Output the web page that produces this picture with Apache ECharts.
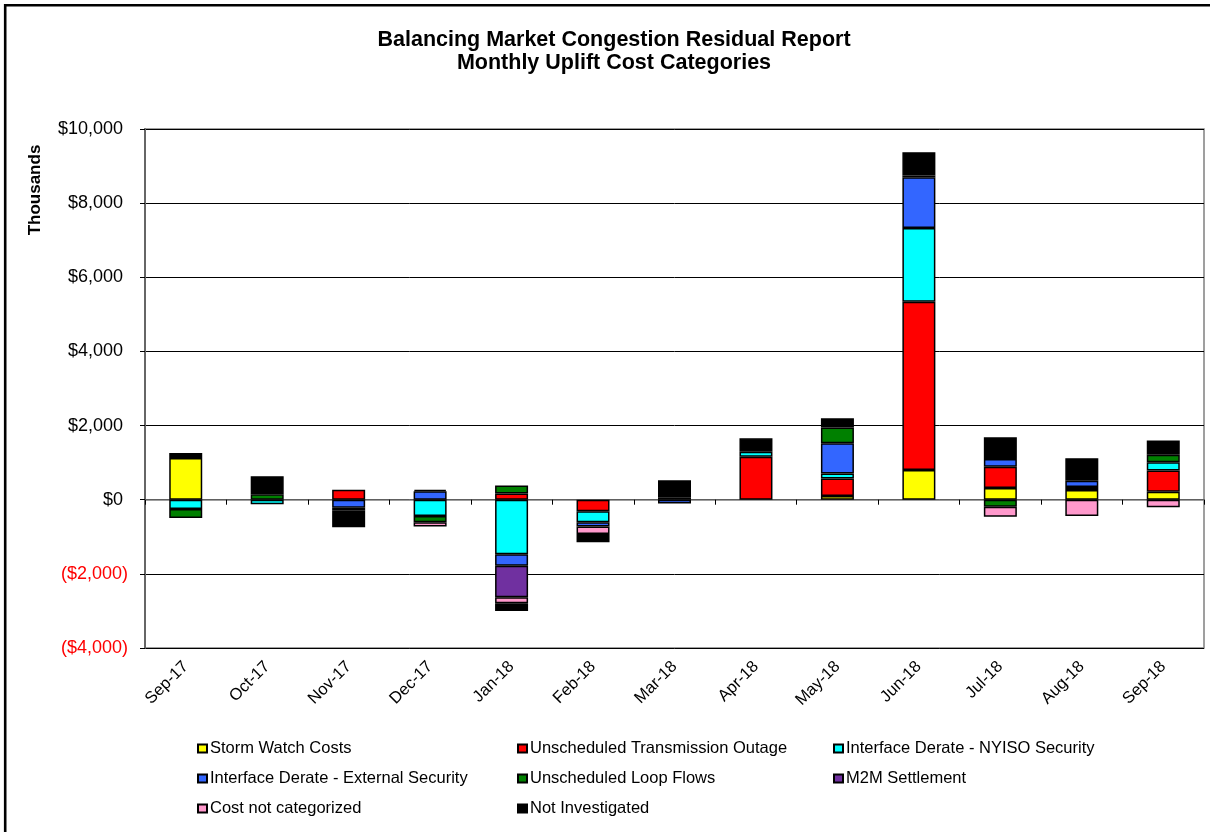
<!DOCTYPE html>
<html>
<head>
<meta charset="utf-8">
<script src="https://cdn.jsdelivr.net/npm/echarts@6/dist/echarts.min.js"></script>
<style>
html,body{margin:0;padding:0;background:#fff;}
#chart{width:1210px;height:832px;}
</style>
</head>
<body>
<div id="chart"></div>
<script>
var categories = ['Sep-17','Oct-17','Nov-17','Dec-17','Jan-18','Feb-18','Mar-18','Apr-18','May-18','Jun-18','Jul-18','Aug-18','Sep-18'];
var seriesNames = ['Storm Watch Costs','Unscheduled Transmission Outage','Interface Derate - NYISO Security','Interface Derate - External Security','Unscheduled Loop Flows','M2M Settlement','Cost not categorized','Not Investigated'];
var stormWatch      = [1125, null, null, null, null, null, null, null, 100, 800, 315, 260, 215];
var transOutage     = [null, null, 270, null, 170, -310, null, 1160, 475, 4540, 577, 80, 570];
var nyisoSecurity   = [-250, -120, null, -440, -1470, -300, null, 135, 135, 1990, null, null, 225];
var externalSecurity= [null, null, -215, 230, -310, -115, -100, null, 810, 1370, 207, 170, null];
var loopFlows       = [-240, 145, null, -170, 215, null, 50, null, 430, 45, -190, null, 200];
var m2mSettlement   = [null, null, -70, null, -850, null, null, null, null, null, null, null, null];
var notCategorized  = [null, null, -75, -115, -165, -200, null, null, null, null, -270, -440, -200];
var notInvestigated = [135, 490, -385, 40, -210, -225, 475, 360, 250, 630, 586, 610, 390];
var yTickValues = [-4000, -2000, 0, 2000, 4000, 6000, 8000, 10000];
var colors = ['#FFFF00','#FF0000','#00FFFF','#3366FF','#008000','#7030A0','#FF99CC','#000000'];

var allData = [stormWatch, transOutage, nyisoSecurity, externalSecurity, loopFlows, m2mSettlement, notCategorized, notInvestigated];
var FONT = '"Liberation Sans", Arial, sans-serif';

function fmt(v){
  var s = Math.abs(v).toString().replace(/\B(?=(\d{3})+(?!\d))/g, ',');
  return v < 0 ? '{neg|($' + s + ')}' : '{pos|$' + s + '}';
}

var chart = echarts.init(document.getElementById('chart'));
var series = seriesNames.map(function(name, i){
  return {
    name: name,
    type: 'bar',
    stack: 'total',
    xAxisIndex: 0,
    barWidth: 33,
    data: allData[i],
    itemStyle: { color: colors[i], borderColor: '#000', borderWidth: 1.5 },
    emphasis: { disabled: true }
  };
});

function legendCol(names, left){
  return {
    data: names,
    orient: 'vertical',
    left: left,
    top: 740,
    padding: 0,
    itemGap: 13,
    itemWidth: 9,
    itemHeight: 8,
    icon: 'rect',
    selectedMode: false,
    textStyle: { fontFamily: FONT, fontSize: 16.5, color: '#000', lineHeight: 16, padding: [0,0,0,-2] }
  };
}

chart.setOption({
  animation: false,
  backgroundColor: '#fff',
  textStyle: { fontFamily: FONT },
  grid: { left: 145, right: 6, top: 129, bottom: 184, show: true, borderColor: '#808080', borderWidth: 1.5, containLabel: false },
  legend: [
    legendCol([seriesNames[0], seriesNames[3], seriesNames[6]], 197),
    legendCol([seriesNames[1], seriesNames[4], seriesNames[7]], 517),
    legendCol([seriesNames[2], seriesNames[5]], 833)
  ],
  xAxis: [
    {
      type: 'category', data: categories, position: 'bottom',
      axisLine: { show: false, onZero: false },
      axisTick: { show: false },
      axisLabel: { rotate: 45, fontSize: 16.5, color: '#000', fontFamily: FONT, margin: 16 },
      splitLine: { show: false }
    },
    {
      type: 'category', data: categories, position: 'top',
      axisLine: { show: true, onZero: true, lineStyle: { color: '#808080', width: 1.5 } },
      axisTick: { show: true, inside: true, length: 5, lineStyle: { color: '#000', width: 1 } },
      axisLabel: { show: false },
      splitLine: { show: false }
    }
  ],
  yAxis: {
    type: 'value', min: yTickValues[0], max: yTickValues[yTickValues.length-1], interval: 2000,
    axisLine: { show: true, lineStyle: { color: '#666', width: 2 } },
    axisTick: { show: true, length: 5, lineStyle: { color: '#000' } },
    axisLabel: {
      margin: 17, fontSize: 18, fontFamily: FONT,
      formatter: fmt,
      rich: {
        neg: { color: '#FF0000', fontSize: 18, fontFamily: FONT },
        pos: { color: '#000', fontSize: 18, fontFamily: FONT, padding: [0, 5, 0, 0] }
      }
    },
    splitLine: { show: true, lineStyle: { color: '#000', width: 1 } }
  },
  series: series,
  graphic: [
    { type: 'rect', shape: { x: 5.2, y: 5.2, width: 1260, height: 900 }, style: { fill: 'none', stroke: '#000', lineWidth: 2.6 }, silent: true },
    { type: 'text', x: 614, y: 40, style: { text: 'Balancing Market Congestion Residual Report', font: 'bold 21.5px ' + FONT, fill: '#000', textAlign: 'center', textVerticalAlign: 'middle' } },
    { type: 'text', x: 614, y: 63, style: { text: 'Monthly Uplift Cost Categories', font: 'bold 21.5px ' + FONT, fill: '#000', textAlign: 'center', textVerticalAlign: 'middle' } },
    { type: 'text', x: 35, y: 190, rotation: Math.PI/2, style: { text: 'Thousands', font: 'bold 17px ' + FONT, fill: '#000', textAlign: 'center', textVerticalAlign: 'middle' } }
  ]
});
</script>
</body>
</html>
